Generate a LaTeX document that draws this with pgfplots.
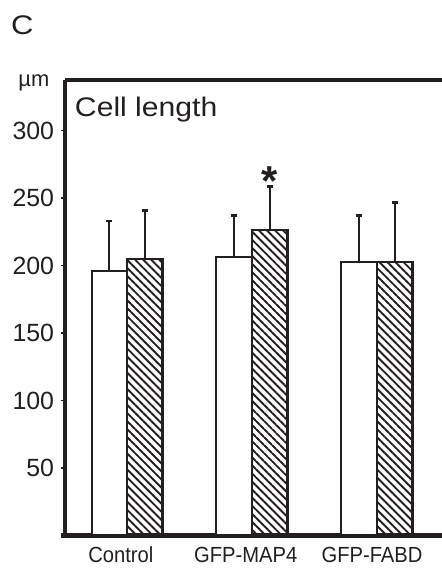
\documentclass[border=0pt]{standalone}
\usepackage{graphicx}
\usepackage{pgfplots}
\pgfplotsset{compat=1.18}
\usepackage{fontspec}
\setmainfont{Liberation Sans}
\usetikzlibrary{patterns.meta}
\definecolor{ink}{RGB}{35,31,32}
\begin{document}
\begin{tikzpicture}[x=1bp,y=1bp]
\begin{axis}[
  at={(0,0)}, anchor=south west,
  scale only axis, width=376.7bp, height=455.5bp,
  xmin=-0.494, xmax=2.52, ymin=0, ymax=337.4,
  axis x line*=bottom, axis y line*=left,
  x axis line style={line width=4.3bp, ink, shorten <=-4.3bp},
  y axis line style={line width=4bp, ink},
  xtick={-0.05,0.95,1.96},
  xticklabels={\scalebox{0.92}[1]{Control},\scalebox{0.92}[1]{GFP-MAP4},\scalebox{0.92}[1]{GFP-FABD}},
  xtick style={draw=none},
  ytick={50,100,150,200,250,300},
  ytick style={line width=1.3bp, ink},
  tick align=outside, major tick length=4bp,
  /pgf/number format/assume math mode=true,
  yticklabel style={font=\fontsize{25}{25}\selectfont, text=ink, inner sep=0pt, anchor=east, xshift=-7bp},
  xticklabel style={font=\fontsize{22}{22}\selectfont, text=ink, inner sep=0pt, anchor=base, yshift=-23bp},
  clip=false,
]
\addplot[ybar, bar width=0.284, bar shift=0pt, draw=ink, line width=2bp, fill=white,
  error bars/.cd, y dir=plus, y explicit,
  error bar style={line width=2bp, ink},
  error mark options={line width=2.7bp, ink, mark size=3.2bp, rotate=90}]
  coordinates {(-0.142,196) +- (0,37) (0.855,206) +- (0,31) (1.855,202.4) +- (0,34.6)};
\addplot[ybar, bar width=0.284, bar shift=0pt, draw=ink, line width=2.3bp,
  pattern={Lines[angle=-45,distance=5.7bp,line width=1.9bp]}, pattern color=ink,
  error bars/.cd, y dir=plus, y explicit,
  error bar style={line width=2bp, ink},
  error mark options={line width=2.7bp, ink, mark size=3.2bp, rotate=90}]
  coordinates {(0.142,204.8) +- (0,35.8) (1.143,226.3) +- (0,32.1) (2.143,202.4) +- (0,44.4)};
\draw[ink, line width=3.3bp] (rel axis cs:0,1) -- (rel axis cs:1,1);
\node[anchor=base, inner sep=0pt, text=ink, font=\fontsize{42}{42}\selectfont\bfseries] at (axis cs:1.143,252) {*};
\end{axis}
\node[anchor=base west, inner sep=0pt, text=ink, font=\fontsize{27}{27}\selectfont] at (-54.3bp,500.5bp) {\scalebox{1.15}[1]{C}};
\node[anchor=base west, inner sep=0pt, text=ink, font=\fontsize{22}{22}\selectfont] at (-47bp,448.8bp) {µm};
\node[anchor=base west, inner sep=0pt, text=ink, font=\fontsize{27}{27}\selectfont] at (9.5bp,418.8bp) {\scalebox{1.12}[1]{Cell length}};
\pgfresetboundingbox
\path[use as bounding box] (-65.3bp,-32.5bp) rectangle (376.7bp,535.5bp);
\end{tikzpicture}
\end{document}
